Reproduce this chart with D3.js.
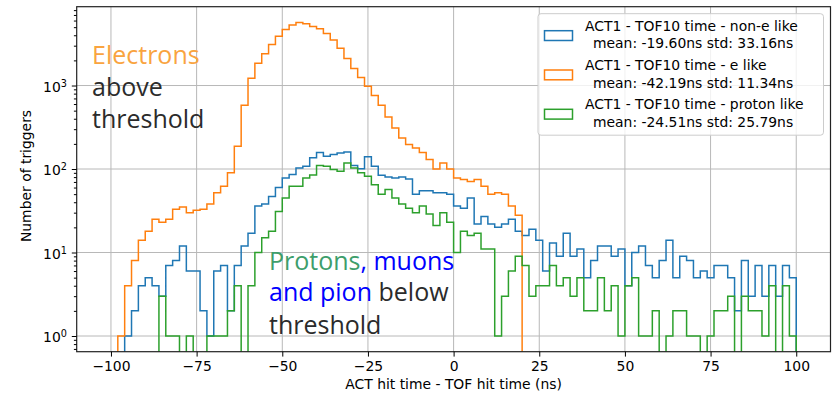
<!DOCTYPE html>
<html>
<head>
<meta charset="utf-8">
<script src="https://cdn.jsdelivr.net/npm/d3@7"></script>
<style>
  body { margin: 0; background: #fff; }
  svg { display: block; }
</style>
</head>
<body>
<div id="chart"></div>
<script>
// bins: 100 bins of 2 ns, starting at -100 ns
var binStart = -100;
var binWidth = 2;

// counts per bin
var nonELike = [
    0, 0, 1, 2, 4, 5, 4, 3, 7, 8,
    12, 6, 6, 2, 1, 6, 7, 2, 7, 12,
    17, 36, 38, 47, 60, 78, 86, 103, 108, 136,
    158, 142, 149, 156, 160, 110, 101, 140, 108, 84,
    80, 78, 80, 76, 50, 55, 55, 52, 52, 50,
    36, 34, 45, 22, 27, 22, 20, 22, 25, 18,
    16, 19, 14, 6, 13, 9, 17, 9, 11, 5,
    8, 12, 12, 9, 11, 4, 10, 12, 7, 5,
    8, 14, 5, 9, 8, 5, 6, 5, 7, 7,
    5, 2, 8, 3, 7, 3, 7, 3, 7, 5
];
var eLike = [
    0, 1, 4, 8, 14, 18, 25, 23, 25, 33,
    35, 30, 32, 33, 38, 52, 62, 90, 187, 580,
    1220, 1850, 2400, 3100, 3900, 4700, 5300, 5700, 5500, 5100,
    4800, 4200, 3500, 2800, 2100, 1600, 1250, 980, 760, 580,
    420, 310, 235, 196, 179, 158, 130, 100, 118, 100,
    78, 75, 71, 75, 62, 50, 52, 50, 36, 28,
    0, 0, 0, 0, 0, 0, 0, 0, 0, 0,
    0, 0, 0, 0, 0, 0, 0, 0, 0, 0,
    0, 0, 0, 0, 0, 0, 0, 0, 0, 0,
    0, 0, 0, 0, 0, 0, 0, 0, 0, 0
];
var protonLike = [
    0, 0, 0, 0, 0, 0, 0, 3, 1, 1,
    0, 1, 0, 0, 1, 1, 1, 2, 4, 0,
    4, 10, 15, 18, 31, 45, 62, 62, 78, 85,
    110, 108, 99, 94, 118, 103, 90, 82, 65, 50,
    57, 45, 38, 34, 30, 36, 29, 21, 30, 23,
    10, 18, 16, 17, 11, 11, 1, 3, 6, 9,
    7, 3, 4, 4, 7, 4, 5, 3, 5, 2,
    2, 5, 2, 4, 1, 4, 5, 1, 1, 2,
    0, 1, 2, 2, 1, 1, 0, 1, 2, 2,
    3, 0, 3, 2, 2, 1, 4, 0, 4, 1
];

var seriesLabels = [
    ["ACT1 - TOF10 time - non-e like", "mean: -19.60ns std: 33.16ns"],
    ["ACT1 - TOF10 time - e like", "mean: -42.19ns std: 11.34ns"],
    ["ACT1 - TOF10 time - proton like", "mean: -24.51ns std: 25.79ns"]
];
var seriesColors = ["#1f77b4", "#ff7f0e", "#2ca02c"];

var xTicks = [-100, -75, -50, -25, 0, 25, 50, 75, 100];
var yTicks = [1, 10, 100, 1000];

// set the dimensions and margins of the graph
var margin = { top: 6.7, right: 1.5, bottom: 43.3, left: 76.7 },
    width = 832 - margin.left - margin.right,
    height = 395 - margin.top - margin.bottom;

var svg = d3.select("#chart")
    .append("svg")
    .attr("width", 832)
    .attr("height", 395)
    .append("g")
    .attr("transform", "translate(" + margin.left + "," + margin.top + ")");

var x = d3.scaleLinear()
    .domain([-110, 110])
    .range([0, width]);

// matplotlib log autoscale: 5% margins in log space
var y = d3.scaleLog()
    .domain([Math.pow(10, -0.188), Math.pow(10, 3.944)])
    .range([height, 0]);

svg.append("clipPath")
    .attr("id", "plotClip")
    .append("rect")
    .attr("width", width)
    .attr("height", height);

// grid
svg.append("g").selectAll("line")
    .data(xTicks)
    .enter().append("line")
    .attr("x1", function (d) { return x(d); })
    .attr("x2", function (d) { return x(d); })
    .attr("y1", 0)
    .attr("y2", height)
    .style("stroke", "#b8b8b8")
    .style("stroke-width", 1);
svg.append("g").selectAll("line")
    .data(yTicks)
    .enter().append("line")
    .attr("x1", 0)
    .attr("x2", width)
    .attr("y1", function (d) { return y(d); })
    .attr("y2", function (d) { return y(d); })
    .style("stroke", "#b8b8b8")
    .style("stroke-width", 1);

// step outline of each histogram
function stepPoints(counts) {
    var pts = [[binStart, 0]];
    counts.forEach(function (c, i) {
        var e0 = binStart + i * binWidth;
        pts.push([e0, c]);
        pts.push([e0 + binWidth, c]);
    });
    pts.push([binStart + counts.length * binWidth, 0]);
    return pts;
}

var stepLine = d3.line()
    .x(function (d) { return x(d[0]); })
    .y(function (d) { return d[1] > 0 ? y(d[1]) : height + 2000; });

var lines = svg.append("g").attr("clip-path", "url(#plotClip)");
[nonELike, eLike, protonLike].forEach(function (counts, k) {
    lines.append("path")
        .datum(stepPoints(counts))
        .attr("fill", "none")
        .attr("stroke", seriesColors[k])
        .attr("stroke-width", 1.5)
        .attr("stroke-linejoin", "miter")
        .attr("d", stepLine);
});

// frame
svg.append("rect")
    .attr("width", width)
    .attr("height", height)
    .attr("fill", "none")
    .attr("stroke", "#222")
    .attr("stroke-width", 1.2);

// x axis
var xAxis = svg.append("g")
    .attr("transform", "translate(0," + height + ")")
    .call(d3.axisBottom(x).tickValues(xTicks).tickSize(4.9).tickPadding(4.9));
xAxis.select(".domain").remove();
xAxis.attr("font-family", "DejaVu Sans").attr("font-size", 13.9);
xAxis.selectAll(".tick text").attr("fill", "#000");

// y axis (log, 10^n labels)
var minorTicks = [];
[-1, 0, 1, 2, 3].forEach(function (p) {
    for (var m = 2; m <= 9; m++) {
        var v = m * Math.pow(10, p);
        if (v >= y.domain()[0] && v <= y.domain()[1]) minorTicks.push(v);
    }
});
var yMinor = svg.append("g")
    .call(d3.axisLeft(y).tickValues(minorTicks).tickSize(2.8).tickFormat(""));
yMinor.select(".domain").remove();

var yAxis = svg.append("g")
    .call(d3.axisLeft(y).tickValues(yTicks).tickSize(4.9).tickPadding(4.9));
yAxis.select(".domain").remove();
yAxis.attr("font-family", "DejaVu Sans").attr("font-size", 13.9);
yAxis.selectAll(".tick text").each(function (d) {
    var t = d3.select(this);
    t.text(null).attr("fill", "#000").attr("dy", "0.42em");
    t.append("tspan").text("10");
    t.append("tspan")
        .attr("dy", "-0.55em")
        .attr("font-size", 9.7)
        .text(Math.round(Math.log10(d)));
});

// axis titles
svg.append("text")
    .attr("x", width / 2)
    .attr("y", height + 37)
    .attr("text-anchor", "middle")
    .attr("font-family", "DejaVu Sans")
    .attr("font-size", 13.9)
    .text("ACT hit time - TOF hit time (ns)");

svg.append("text")
    .attr("transform", "translate(" + (31 - margin.left) + "," + (176 - margin.top) + ") rotate(-90)")
    .attr("text-anchor", "middle")
    .attr("font-family", "DejaVu Sans")
    .attr("font-size", 13.9)
    .text("Number of triggers");

// legend
var legend = svg.append("g")
    .attr("transform", "translate(" + (538 - margin.left) + "," + (13.7 - margin.top) + ")");
legend.append("rect")
    .attr("width", 285.5)
    .attr("height", 121.5)
    .attr("rx", 3)
    .attr("fill", "#fff")
    .attr("fill-opacity", 0.8)
    .attr("stroke", "#cccccc")
    .attr("stroke-width", 1);

seriesLabels.forEach(function (lab, k) {
    var row = legend.append("g")
        .attr("transform", "translate(0," + (k * 39.3) + ")");
    row.append("rect")
        .attr("x", 6.5)
        .attr("y", 17)
        .attr("width", 28)
        .attr("height", 9.8)
        .attr("fill", "none")
        .attr("stroke", seriesColors[k])
        .attr("stroke-width", 1.5);
    var txt = row.append("text")
        .attr("font-family", "DejaVu Sans")
        .attr("font-size", 13.9)
        .attr("fill", "#000");
    txt.append("tspan").attr("x", 47).attr("y", 17).text(lab[0]);
    txt.append("tspan").attr("x", 55).attr("y", 34.6).text(lab[1]);
});

// annotations
var note = svg.append("g")
    .attr("font-family", "'Open Sans', sans-serif")
    .attr("font-size", 25)
    .attr("transform", "translate(" + (-margin.left) + "," + (-margin.top) + ")");

note.append("text").attr("x", 92).attr("y", 64).attr("fill", "#f9a43f").text("Electrons");
note.append("text").attr("x", 92).attr("y", 96).attr("fill", "#2b2b2b").text("above");
note.append("text").attr("x", 92).attr("y", 128).attr("fill", "#2b2b2b").text("threshold");

var p1 = note.append("text").attr("x", 269).attr("y", 270).attr("xml:space", "preserve");
p1.append("tspan").attr("fill", "#3e9e6b").text("Protons");
p1.append("tspan").attr("fill", "#0000ff").text(", muons");
var p2 = note.append("text").attr("x", 269).attr("y", 301).attr("xml:space", "preserve");
p2.append("tspan").attr("fill", "#0000ff").text("and pion");
p2.append("tspan").attr("fill", "#2b2b2b").text(" below");
note.append("text").attr("x", 269).attr("y", 334).attr("fill", "#2b2b2b").text("threshold");
</script>
</body>
</html>
